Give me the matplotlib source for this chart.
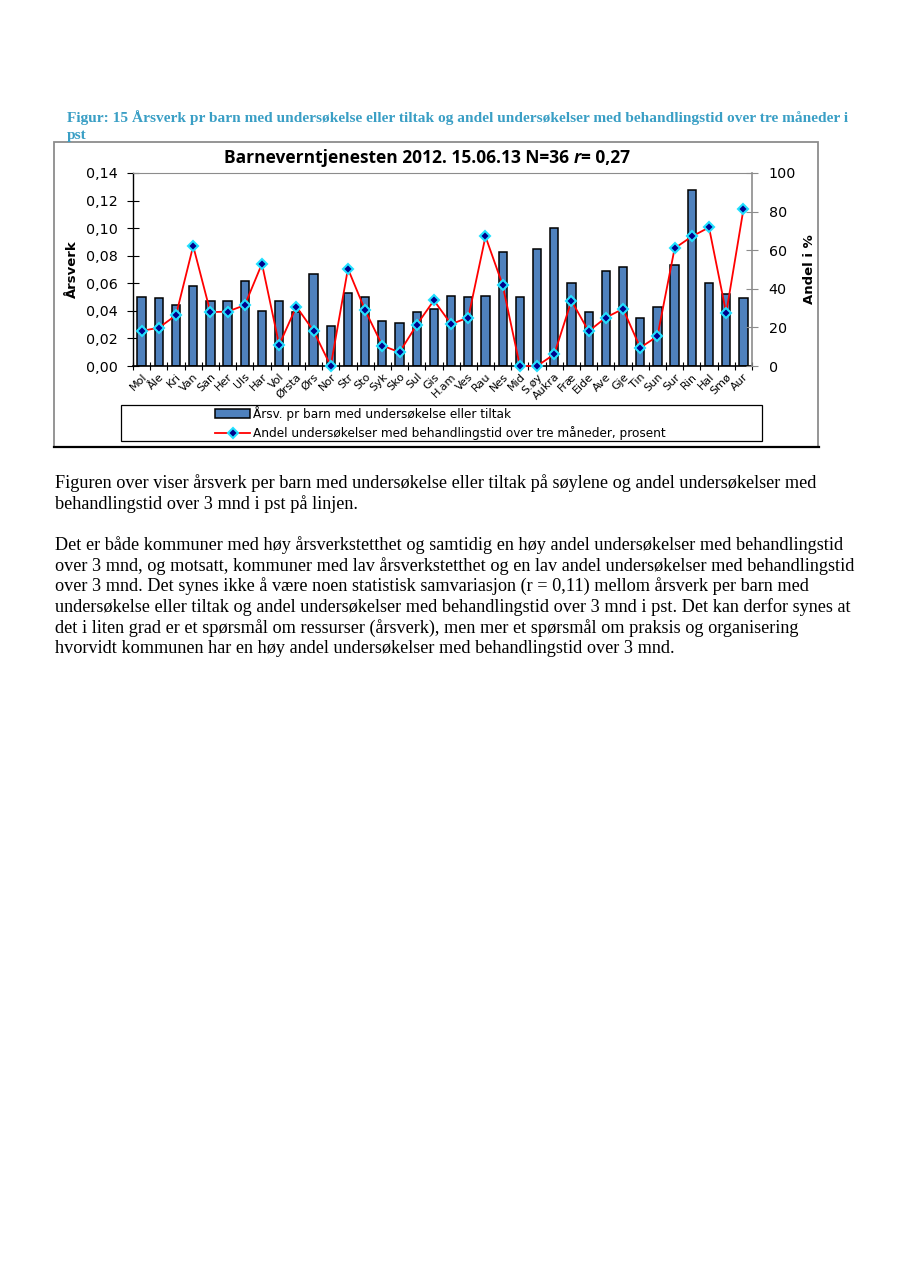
import numpy as np
import matplotlib
matplotlib.use("Agg")
import matplotlib.pyplot as plt
from matplotlib.patches import Rectangle
from matplotlib.lines import Line2D
from matplotlib.ticker import FuncFormatter, MultipleLocator

# kommuner
kommuner = ["Mol", "Åle", "Kri", "Van", "San", "Her", "Uls", "Har", "Vol", "Ørsta",
            "Ørs", "Nor", "Str", "Sto", "Syk", "Sko", "Sul", "Gis", "H.am", "Ves",
            "Rau", "Nes", "Mid", "S.øy", "Aukra", "Fræ", "Eide", "Ave", "Gje", "Tin",
            "Sun", "Sur", "Rin", "Hal", "Smø", "Aur"]

# årsverk pr barn med undersøkelse eller tiltak (søyler, venstre akse)
arsverk = [0.050, 0.049, 0.044, 0.058, 0.047, 0.047, 0.062, 0.040, 0.047, 0.039,
           0.067, 0.029, 0.053, 0.050, 0.033, 0.031, 0.039, 0.041, 0.051, 0.050,
           0.051, 0.083, 0.050, 0.085, 0.100, 0.060, 0.039, 0.069, 0.072, 0.035,
           0.043, 0.073, 0.128, 0.060, 0.052, 0.049]

# andel undersøkelser med behandlingstid over tre måneder, prosent (linje, høyre akse)
andel = [18.2, 19.8, 26.3, 62.2, 27.9, 28.2, 31.5, 53.0, 10.9, 30.8,
         18.2, 0.0, 50.4, 28.9, 10.6, 7.1, 21.3, 34.0, 21.7, 25.1,
         67.1, 41.9, 0.0, 0.0, 6.1, 33.8, 18.0, 25.1, 29.6, 9.5,
         15.4, 61.0, 67.1, 71.8, 27.4, 81.1]

caption = ["Figur: 15 Årsverk pr barn med undersøkelse eller tiltak og andel undersøkelser med behandlingstid over tre måneder i",
           "pst"]
body = [
    (488, "Figuren over viser årsverk per barn med undersøkelse eller tiltak på søylene og andel undersøkelser med"),
    (508.5, "behandlingstid over 3 mnd i pst på linjen."),
    (550, "Det er både kommuner med høy årsverkstetthet og samtidig en høy andel undersøkelser med behandlingstid"),
    (570.7, "over 3 mnd, og motsatt, kommuner med lav årsverkstetthet og en lav andel undersøkelser med behandlingstid"),
    (591.3, "over 3 mnd. Det synes ikke å være noen statistisk samvariasjon (r = 0,11) mellom årsverk per barn med"),
    (611.9, "undersøkelse eller tiltak og andel undersøkelser med behandlingstid over 3 mnd i pst. Det kan derfor synes at"),
    (632.5, "det i liten grad er et spørsmål om ressurser (årsverk), men mer et spørsmål om praksis og organisering"),
    (653.1, "hvorvidt kommunen har en høy andel undersøkelser med behandlingstid over 3 mnd."),
]

W, H = 908, 1286
fig = plt.figure(figsize=(W / 100, H / 100), dpi=100)
fig.patch.set_facecolor("white")


def fx(px):
    return px / W


def fy(py):
    return 1 - py / H


# figure caption
fig.text(fx(67), fy(122), caption[0], family="Liberation Serif", weight="bold",
         fontsize=11.05, color="#3a9fc5", va="baseline")
fig.text(fx(67), fy(139.5), caption[1], family="Liberation Serif", weight="bold",
         fontsize=11.05, color="#3a9fc5", va="baseline")

# chart frame
fig.patches.append(Rectangle((fx(54), fy(447)), fx(818) - fx(54), fy(142) - fy(447),
                             transform=fig.transFigure, fill=False, ec="#8c8c8c", lw=1.3))
fig.lines.append(Line2D([fx(54), fx(819)], [fy(447), fy(447)], transform=fig.transFigure,
                        color="black", lw=1.6))

ax = fig.add_axes([fx(133), fy(366), fx(752) - fx(133), fy(173) - fy(366)])
x = np.arange(len(kommuner))
bars = ax.bar(x, arsverk, width=0.48, color="#4f81bd", edgecolor="black", lw=1.1, zorder=2)
ax.set_xlim(-0.5, len(kommuner) - 0.5)
ax.set_ylim(0, 0.14)
ax.yaxis.set_major_locator(MultipleLocator(0.02))
ax.yaxis.set_major_formatter(FuncFormatter(lambda v, p: f"{v:.2f}".replace(".", ",")))
ax.set_xticks(x)
ax.set_xticklabels(kommuner, rotation=45, ha="right", va="top", rotation_mode="anchor",
                   fontsize=8, family="DejaVu Sans")
ax.set_xticks(np.arange(-0.5, len(kommuner)), minor=True)
ax.tick_params(axis="x", which="major", length=0, pad=4)
ax.tick_params(axis="x", which="minor", direction="inout", length=6, width=0.8)
ax.tick_params(axis="y", direction="inout", length=8, width=0.8, labelsize=10.3, pad=7)
for lab in ax.get_yticklabels():
    lab.set_family("DejaVu Sans")
ax.spines["top"].set_color("#8c8c8c")
ax.spines["right"].set_visible(False)
ax.spines["left"].set_linewidth(1.0)
ax.spines["bottom"].set_linewidth(1.2)
ax.set_ylabel("Årsverk", fontsize=9.5, weight="bold", family="DejaVu Sans", labelpad=5)

ax2 = ax.twinx()
line, = ax2.plot(x, andel, color="red", lw=1.3, marker="D", markersize=5.5,
                 markerfacecolor="#00008b", markeredgecolor="#22e0ff", markeredgewidth=1.5,
                 zorder=3, clip_on=False)
ax2.set_ylim(0, 100)
ax2.yaxis.set_major_locator(MultipleLocator(20))
ax2.tick_params(axis="y", direction="inout", length=8, width=0.8, color="#8c8c8c",
                labelsize=10.3, pad=8)
for lab in ax2.get_yticklabels():
    lab.set_family("DejaVu Sans")
for s in ["top", "left", "bottom"]:
    ax2.spines[s].set_visible(False)
ax2.spines["right"].set_color("#8c8c8c")
ax2.spines["right"].set_linewidth(1.2)
ax2.set_ylabel("Andel i %", fontsize=9.5, weight="bold", family="DejaVu Sans",
               rotation=90, labelpad=5)

# title with italic r
renderer = fig.canvas.get_renderer()
tparts = [("Barneverntjenesten 2012. 15.06.13 N=36 ", "normal"), ("r", "italic"), ("= 0,27", "normal")]
objs = []
for s, st in tparts:
    objs.append(fig.text(0, fy(163), s, family="Open Sans", weight="bold", style=st,
                         fontsize=12.5, va="baseline"))
widths = [o.get_window_extent(renderer).width for o in objs]
start = 427 - sum(widths) / 2
for o, w in zip(objs, widths):
    o.set_x(fx(start))
    start += w

# legend
fig.patches.append(Rectangle((fx(121), fy(441)), fx(762) - fx(121), fy(405) - fy(441),
                             transform=fig.transFigure, fill=False, ec="black", lw=0.9))
fig.legend([bars, line],
           ["Årsv. pr barn med undersøkelse eller tiltak",
            "Andel undersøkelser med behandlingstid over tre måneder, prosent"],
           loc="center left", bbox_to_anchor=(fx(209), fy(423)), frameon=False,
           prop={"family": "DejaVu Sans", "size": 8.7}, handlelength=2.9, handletextpad=0.25,
           labelspacing=0.45, borderpad=0)

# body text
for yy, s in body:
    fig.text(fx(55), fy(yy), s, family="Liberation Serif", fontsize=13.15, va="baseline")

fig.savefig("out.png", dpi=100)
